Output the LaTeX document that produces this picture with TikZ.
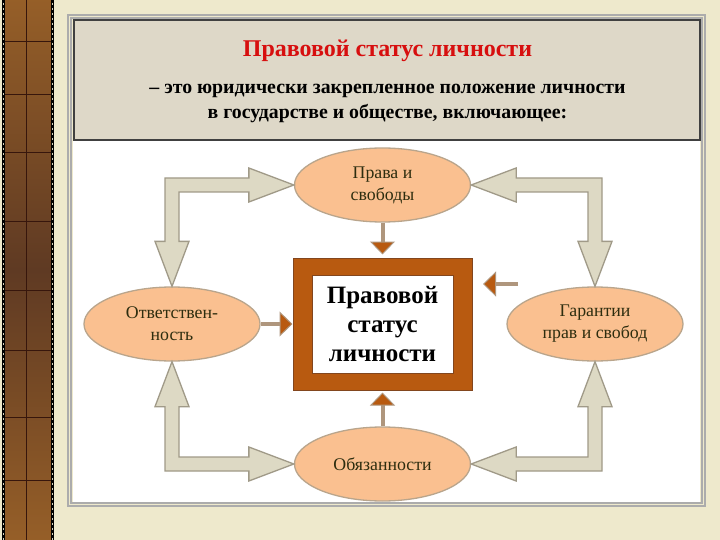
\documentclass[tikz,border=0pt]{standalone}
\usepackage{fontspec}
\setmainfont{Liberation Serif}
\usetikzlibrary{calc,arrows.meta,shapes.geometric}
\definecolor{bgc}{RGB}{238,233,204}
\definecolor{stripa}{RGB}{150,95,40}
\definecolor{stripb}{RGB}{95,58,35}
\definecolor{stripline}{RGB}{55,22,12}
\definecolor{headc}{RGB}{222,216,200}
\definecolor{titlec}{RGB}{215,15,15}
\definecolor{boxc}{RGB}{184,90,16}
\definecolor{boxline}{RGB}{130,70,30}
\definecolor{ellfill}{RGB}{250,192,144}
\definecolor{ellborder}{RGB}{185,165,140}
\definecolor{itemtext}{RGB}{45,45,15}
\definecolor{arrfill}{RGB}{221,217,196}
\definecolor{arrborder}{RGB}{160,154,136}
\definecolor{shaftc}{RGB}{175,150,125}
\tikzset{
	item/.style={ellipse,draw=ellborder,fill=ellfill,line width=1.3pt,minimum width=176pt,minimum height=74pt,inner sep=0pt,align=center,text=itemtext,font=\fontsize{17.8}{22}\selectfont},
	bigarrow/.style={draw=arrborder,fill=arrfill,line width=1.3pt},
	smallarrow/.style={draw=shaftc,line width=4pt,-{Triangle[length=13pt,width=25pt,fill=boxc,color=shaftc,line width=1pt]}},
}

\begin{document}
\begin{tikzpicture}[x=1pt,y=-1pt]
			\useasboundingbox (0,0) rectangle (720,540);
			\fill[bgc] (0,0) rectangle (720,540);
			\shade[top color=stripa,bottom color=stripa,middle color=stripb] (3,-2) rectangle (52,542);
			\foreach \y in {42,95,153,222,290,350,417,480}
				\draw[stripline,line width=1pt] (4,\y) -- (51,\y);
			\draw[stripline,line width=1pt] (26,-2) -- (26,542);
			\draw[black,line width=3pt] (3,-2) -- (3,542) (52,-2) -- (52,542);
			\draw[bgc!80!gray,line width=1pt,dash pattern=on 2pt off 3pt] (3,-2) -- (3,542) (52,-2) -- (52,542);
			\draw[gray!65,line width=1.2pt] (68,15) rectangle (705,506);
			\draw[gray!65,line width=1.2pt] (71,18) rectangle (702,503);
			\fill[white] (73,20) rectangle (700,502);
			\draw[black!75,line width=1.2pt,fill=headc] (74,20) rectangle (700,140);
			\node[text=titlec,font=\bfseries\fontsize{24}{28}\selectfont] (title) at (387.5,51) {Правовой статус личности};
			\node[align=center,font=\bfseries\fontsize{19.8}{25}\selectfont] (defn) at (387.5,103) {– это юридически закрепленное положение личности\\в государстве и обществе, включающее:};
			\node[draw=boxline,fill=boxc,line width=1pt,minimum width=179pt,minimum height=132pt] (frame) at (382.5,324) {};
			\node[draw=boxline,fill=white,line width=0.8pt,minimum width=141pt,minimum height=98pt,inner sep=0pt,align=center,font=\bfseries\fontsize{25}{29}\selectfont] (status) at (frame) {Правовой\\статус\\личности};
			\node[item] (rights) at (382.5,185) {Права и\\свободы};
			\node[item] (resp) at (172,324) {Ответствен-\\ность};
			\node[item] (guar) at (595,324) {Гарантии\\прав и свобод};
			\node[item] (duty) at (382.5,464) {Обязанности};
			\draw[bigarrow] (rights.west) -- ++(-45,-17) -- ++(0,10) -- ($(resp.north |- rights.west)+(-7,-7)$) -- ($(resp.north)+(-7,-45)$) -- ++(-10,0) -- (resp.north) -- ++(17,-45) -- ++(-10,0) -- ($(resp.north |- rights.west)+(7,7)$) -- ($(rights.west)+(-45,7)$) -- ++(0,10) -- cycle;
			\draw[bigarrow] (rights.east) -- ++(45,-17) -- ++(0,10) -- ($(guar.north |- rights.east)+(7,-7)$) -- ($(guar.north)+(7,-45)$) -- ++(10,0) -- (guar.north) -- ++(-17,-45) -- ++(10,0) -- ($(guar.north |- rights.east)+(-7,7)$) -- ($(rights.east)+(45,7)$) -- ++(0,10) -- cycle;
			\draw[bigarrow] (resp.south) -- ++(17,45) -- ++(-10,0) -- ($(resp.south |- duty.west)+(7,-7)$) -- ($(duty.west)+(-45,-7)$) -- ++(0,-10) -- (duty.west) -- ++(-45,17) -- ++(0,-10) -- ($(resp.south |- duty.west)+(-7,7)$) -- ($(resp.south)+(-7,45)$) -- ++(-10,0) -- cycle;
			\draw[bigarrow] (guar.south) -- ++(-17,45) -- ++(10,0) -- ($(guar.south |- duty.east)+(-7,-7)$) -- ($(duty.east)+(45,-7)$) -- ++(0,-10) -- (duty.east) -- ++(45,17) -- ++(0,-10) -- ($(guar.south |- duty.east)+(7,7)$) -- ($(guar.south)+(7,45)$) -- ++(10,0) -- cycle;
			\coordinate (free) at (518,284);
			\coordinate (freetip) at (483,284);
			\draw[smallarrow] (rights.south) -- ($(frame.north)+(0,-3)$);
			\draw[smallarrow] (resp.east) -- (frame.west);
			\draw[smallarrow] (duty.north) -- ($(frame.south)+(0,2)$);
			\draw[smallarrow] (free) -- (freetip);
		\end{tikzpicture}
\end{document}
